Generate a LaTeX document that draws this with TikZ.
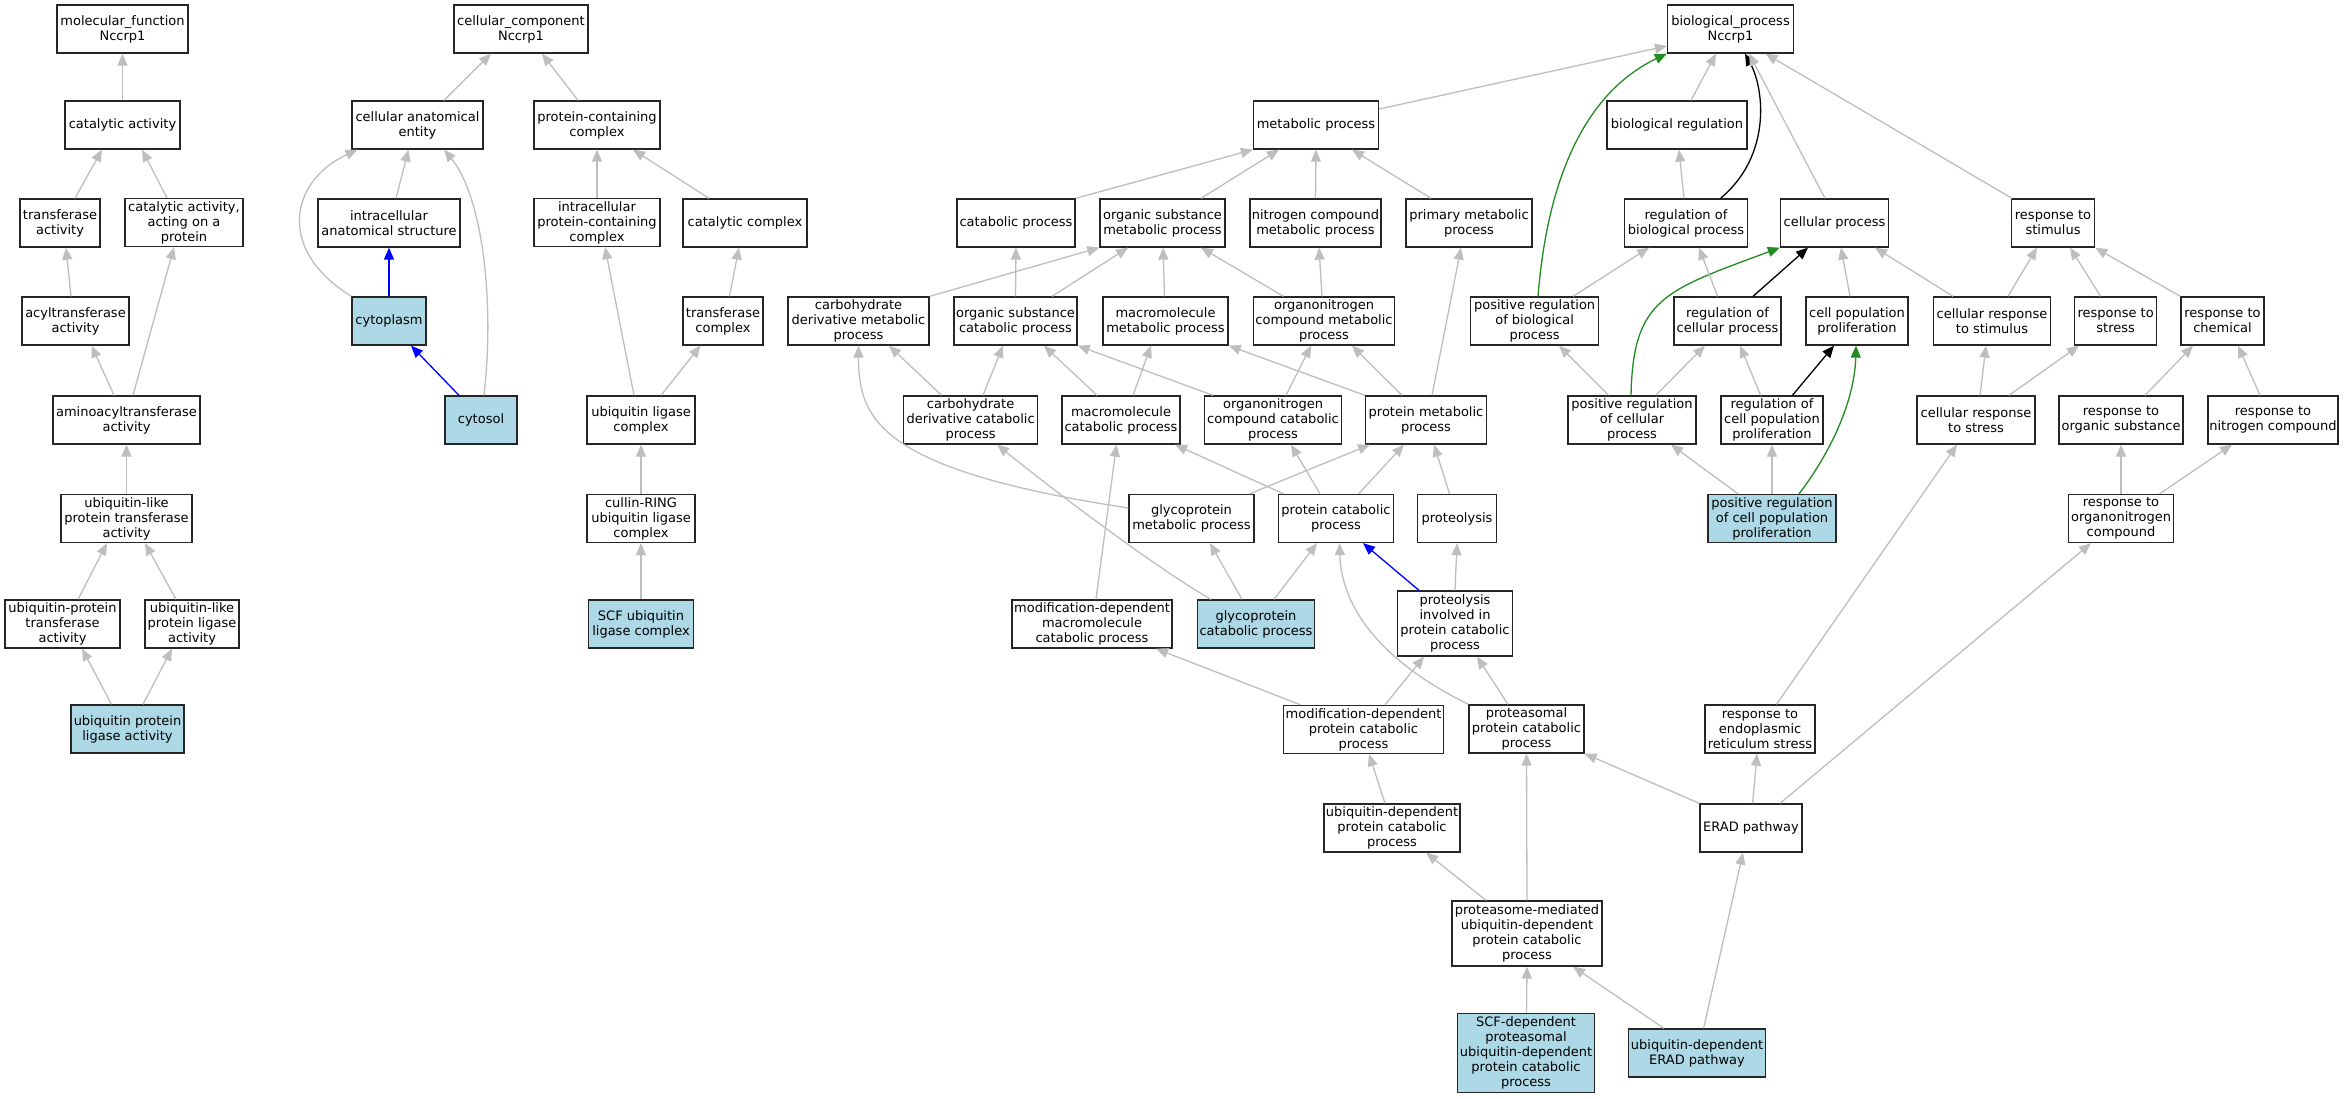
\documentclass[tikz,border=0pt]{standalone}
\usepackage{fontspec}
\setmainfont{DejaVu Sans}
\usetikzlibrary{arrows.meta}
\definecolor{eg}{RGB}{190,190,190}
\definecolor{lb}{RGB}{173,216,230}
\definecolor{fg}{RGB}{34,139,34}
\newcommand{\golink}[5][ed]{\draw[#1] ([xshift=#3pt]#2.north) -- ([xshift=#5pt]#4.south);}
\begin{document}
\begin{tikzpicture}[x=1pt,y=-1pt,
 bx/.style={draw=black!85, line width=1.3pt, fill=white, align=center, inner xsep=1pt, inner ysep=1pt, minimum height=48pt, font=\fontsize{13pt}{15pt}\selectfont},
 hl/.style={fill=lb},
 ed/.style={draw=eg, line width=1.3pt, -{Triangle[length=12pt,width=10pt]}},
 edb/.style={ed, draw=blue},
 edg/.style={ed, draw=fg},
 edk/.style={ed, draw=black}]
\useasboundingbox[fill=white] (0,0) rectangle (2344,1099);
% ---------- molecular function
\node[bx, minimum width=131pt] (mf) at (122.5,29) {molecular\_function\\Nccrp1};
\node[bx, minimum width=115pt] (ca) at (122.5,125) {catalytic activity};
\node[bx, minimum width=80pt] (ta) at (60,223) {transferase\\activity};
\node[bx, minimum width=118pt] (cap) at (184,222.5) {catalytic activity,\\acting on a\\protein};
\node[bx, minimum width=107pt] (acyl) at (75.5,321) {acyltransferase\\activity};
\node[bx, minimum width=147pt] (amino) at (126.5,420) {aminoacyltransferase\\activity};
\node[bx, minimum width=131pt] (ulpt) at (126.5,518.5) {ubiquitin-like\\protein transferase\\activity};
\node[bx, minimum width=115pt] (upt) at (62.5,624) {ubiquitin-protein\\transferase\\activity};
\node[bx, minimum width=94pt] (ulpl) at (192,624) {ubiquitin-like\\protein ligase\\activity};
\node[bx, hl, minimum width=113pt] (upl) at (127.5,729) {ubiquitin protein\\ligase activity};
% ---------- cellular component
\node[bx, minimum width=134pt] (cc) at (521,29) {cellular\_component\\Nccrp1};
\node[bx, minimum width=131pt] (cae) at (417.5,125) {cellular anatomical\\entity};
\node[bx, minimum width=126pt] (pcc) at (597,125) {protein-containing\\complex};
\node[bx, minimum width=142pt] (ias) at (389,223) {intracellular\\anatomical structure};
\node[bx, minimum width=126pt] (ipcc) at (597,222.5) {intracellular\\protein-containing\\complex};
\node[bx, hl, minimum width=74pt] (cyto) at (389,321) {cytoplasm};
\node[bx, minimum width=124pt] (catc) at (745,223) {catalytic complex};
\node[bx, minimum width=80pt] (trc) at (723,321) {transferase\\complex};
\node[bx, hl, minimum width=72pt] (cytosol) at (481,420) {cytosol};
\node[bx, minimum width=108pt] (ulc) at (641,420) {ubiquitin ligase\\complex};
\node[bx, minimum width=108pt] (crl) at (641,518.5) {cullin-RING\\ubiquitin ligase\\complex};
\node[bx, hl, minimum width=105pt] (scf) at (641,624) {SCF ubiquitin\\ligase complex};
% ---------- biological process
\node[bx, minimum width=126pt] (bp) at (1730.5,29) {biological\_process\\Nccrp1};
\node[bx, minimum width=125pt] (mp) at (1316,125) {metabolic process};
\node[bx, minimum width=140pt] (br) at (1677,125) {biological regulation};
\node[bx, minimum width=118pt] (catp) at (1016,223) {catabolic process};
\node[bx, minimum width=125pt] (osmp) at (1162.5,223) {organic substance\\metabolic process};
\node[bx, minimum width=131pt] (ncmp) at (1315.5,223) {nitrogen compound\\metabolic process};
\node[bx, minimum width=126pt] (pmp) at (1469,223) {primary metabolic\\process};
\node[bx, minimum width=123pt] (rbp) at (1686,223) {regulation of\\biological process};
\node[bx, minimum width=108pt] (cp) at (1834.5,223) {cellular process};
\node[bx, minimum width=83pt] (rs) at (2053,223) {response to\\stimulus};
\node[bx, minimum width=141pt] (cdmp) at (858.5,321) {carbohydrate\\derivative metabolic\\process};
\node[bx, minimum width=123pt] (oscp) at (1015.5,321) {organic substance\\catabolic process};
\node[bx, minimum width=125pt] (mmp) at (1165.5,321) {macromolecule\\metabolic process};
\node[bx, minimum width=141pt] (oncmp) at (1324,321) {organonitrogen\\compound metabolic\\process};
\node[bx, minimum width=128pt] (prbp) at (1534.6,321) {positive regulation\\of biological\\process};
\node[bx, minimum width=107pt] (rcp) at (1727.5,321) {regulation of\\cellular process};
\node[bx, minimum width=102pt] (cpp) at (1857,321) {cell population\\proliferation};
\node[bx, minimum width=117pt] (crst) at (1992,321) {cellular response\\to stimulus};
\node[bx, minimum width=82pt] (rstr) at (2115.6,321) {response to\\stress};
\node[bx, minimum width=83pt] (rch) at (2222.5,321) {response to\\chemical};
\node[bx, minimum width=134pt] (cdcp) at (970.6,420) {carbohydrate\\derivative catabolic\\process};
\node[bx, minimum width=118pt] (mcp) at (1121,420) {macromolecule\\catabolic process};
\node[bx, minimum width=137pt] (onccp) at (1273,420) {organonitrogen\\compound catabolic\\process};
\node[bx, minimum width=121pt] (prmp) at (1426,420) {protein metabolic\\process};
\node[bx, minimum width=128pt] (prcp) at (1632,420) {positive regulation\\of cellular\\process};
\node[bx, minimum width=102pt] (rcpp) at (1772,420) {regulation of\\cell population\\proliferation};
\node[bx, minimum width=118pt] (crss) at (1976,420) {cellular response\\to stress};
\node[bx, minimum width=124pt] (ros) at (2121,420) {response to\\organic substance};
\node[bx, minimum width=130pt] (rnc) at (2273,420) {response to\\nitrogen compound};
\node[bx, minimum width=125pt] (gmp) at (1191.5,518.5) {glycoprotein\\metabolic process};
\node[bx, minimum width=115pt] (pcp) at (1336,518.5) {protein catabolic\\process};
\node[bx, minimum width=79pt] (prot) at (1457,518.5) {proteolysis};
\node[bx, hl, minimum width=128pt] (prcpp) at (1772,518.5) {positive regulation\\of cell population\\proliferation};
\node[bx, minimum width=105pt] (ronc) at (2121,518.5) {response to\\organonitrogen\\compound};
\node[bx, minimum width=160pt] (mdmcp) at (1092,624) {modification-dependent\\macromolecule\\catabolic process};
\node[bx, hl, minimum width=117pt] (gcp) at (1256,624) {glycoprotein\\catabolic process};
\node[bx, minimum width=115pt, minimum height=65pt] (pipcp) at (1455,623.5) {proteolysis\\involved in\\protein catabolic\\process};
\node[bx, minimum width=160pt] (mdpcp) at (1363.5,729.5) {modification-dependent\\protein catabolic\\process};
\node[bx, minimum width=115pt] (ppcp) at (1526.5,729) {proteasomal\\protein catabolic\\process};
\node[bx, minimum width=110pt] (rers) at (1760,729) {response to\\endoplasmic\\reticulum stress};
\node[bx, minimum width=136pt] (udpcp) at (1392,828) {ubiquitin-dependent\\protein catabolic\\process};
\node[bx, minimum width=102pt] (erad) at (1751,828) {ERAD pathway};
\node[bx, minimum width=150pt, minimum height=65pt] (pmud) at (1527,933.5) {proteasome-mediated\\ubiquitin-dependent\\protein catabolic\\process};
\node[bx, hl, minimum width=137pt, minimum height=79pt] (scfd) at (1526,1053) {SCF-dependent\\proteasomal\\ubiquitin-dependent\\protein catabolic\\process};
\node[bx, hl, minimum width=137pt] (uderad) at (1697,1053) {ubiquitin-dependent\\ERAD pathway};
% ---------- edges: molecular function
\golink{ca}{0}{mf}{0}
\golink{ta}{15}{ca}{-20.5}
\golink{cap}{-17}{ca}{19.5}
\golink{acyl}{-4.5}{ta}{6}
\golink{amino}{-12.5}{acyl}{16}
\golink{amino}{6.5}{cap}{-10}
\golink{ulpt}{0}{amino}{0}
\golink{upt}{15.5}{ulpt}{-19.5}
\golink{ulpl}{-16}{ulpt}{18.5}
\golink{upl}{-16}{upt}{19.5}
\golink{upl}{15.5}{ulpl}{-20}
% ---------- edges: cellular component
\golink{cae}{26.5}{cc}{-30}
\golink{pcc}{-19}{cc}{21}
\golink{ias}{7}{cae}{-9}
\draw[ed] (cyto.north west) .. controls +(-76,-47) and +(-67,31) .. ([xshift=-60pt]cae.south);
\golink[edb]{cyto}{0}{ias}{0}
\draw[ed] ([xshift=3pt]cytosol.north) .. controls +(11,-96) and +(38,46) .. ([xshift=26.5pt]cae.south);
\draw[edb] ([xshift=-22pt]cytosol.north) -- ([xshift=22pt]cyto.south);
\golink{ipcc}{0}{pcc}{0}
\golink{catc}{-36}{pcc}{36}
\golink{trc}{6.4}{catc}{-6}
\golink{ulc}{-7}{ipcc}{8}
\golink{ulc}{20}{trc}{-22.5}
\golink{crl}{0}{ulc}{0}
\golink{scf}{0}{crl}{0}
% ---------- edges: biological process
\draw[ed] ([yshift=16pt]mp.east) -- ([yshift=-17pt]bp.west);
\golink{br}{14}{bp}{-14.5}
\golink{rbp}{-2}{br}{2}
\draw[edk] ([xshift=34.5pt]rbp.north) .. controls +(51.5,-43) and +(19,35) .. ([xshift=14.5pt]bp.south);
\golink{cp}{-9.5}{bp}{18.5}
\golink{rs}{-41}{bp}{35}
\draw[edg] ([xshift=3.4pt]prbp.north) .. controls +(10,-126) and +(-77.5,37) .. (bp.south west);
\golink{prbp}{38.4}{rbp}{-37}
\draw[ed] (catp.north east) -- (mp.south west);
\golink{osmp}{38.5}{mp}{-37}
\golink{ncmp}{0}{mp}{0}
\golink{pmp}{-38}{mp}{36}
\draw[ed] (cdmp.north east) -- (osmp.south west);
\golink{oscp}{0}{catp}{0}
\golink{oscp}{36.5}{osmp}{-34.5}
\golink{mmp}{-1}{osmp}{0.5}
\golink{oncmp}{-40.5}{osmp}{38.5}
\golink{oncmp}{-2}{ncmp}{3.5}
\golink{cdcp}{-29}{cdmp}{30.5}
\golink{cdcp}{12.4}{oscp}{-12.5}
\golink{mcp}{-24}{oscp}{28.5}
\golink{mcp}{12}{mmp}{-14.5}
\draw[ed] ([xshift=-60pt]onccp.north) -- (oscp.south east);
\golink{onccp}{13}{oncmp}{-13}
\draw[ed] (prmp.north west) -- (mmp.south east);
\golink{prmp}{-24}{oncmp}{28}
\golink{prmp}{6}{pmp}{-8}
\draw[ed] ([yshift=10.5pt]gmp.west) .. controls +(-249,-38) and +(0,74) .. (cdmp.south);
\golink{gmp}{58}{prmp}{-56}
\golink{pcp}{-52.5}{mcp}{54}
\golink{pcp}{-16}{onccp}{18}
\golink{pcp}{22.6}{prmp}{-22}
\golink{prot}{-7.5}{prmp}{8}
\draw[ed] ([xshift=-45pt]gcp.north) .. controls +(-61,-35) and +(43,35) .. ([xshift=26.5pt]cdcp.south);
\golink{gcp}{-14}{gmp}{18.5}
\golink{gcp}{18}{pcp}{-19}
\golink{mdmcp}{4}{mcp}{-4.5}
\golink[edb]{pipcp}{-36}{pcp}{27}
\golink{pipcp}{0}{prot}{0}
\golink{mdpcp}{-63}{mdmcp}{64}
\golink{mdpcp}{21.5}{pipcp}{-31}
\golink{ppcp}{-18.5}{pipcp}{22}
\draw[ed] (ppcp.north west) .. controls +(-69,-34) and +(2.5,77) .. ([xshift=3.5pt]pcp.south);
\golink{udpcp}{-7}{mdpcp}{5.5}
\draw[ed] (erad.north west) -- (ppcp.south east);
\golink{erad}{1.6}{rers}{-3}
\golink{erad}{29}{ronc}{-30}
\golink{pmud}{-41}{udpcp}{34}
\golink{pmud}{0}{ppcp}{0}
\golink{scfd}{0.5}{pmud}{0}
\golink{uderad}{-33}{pmud}{46}
\golink{uderad}{6.6}{erad}{-8}
\golink{rers}{16.5}{crss}{-19}
\golink{prcp}{-23.4}{prbp}{24.4}
\golink{prcp}{23.7}{rcp}{-22.5}
\draw[edg] ([xshift=-1pt]prcp.north) .. controls +(2,-97) and +(-115.6,43) .. (cp.south west);
\golink{rcp}{-10}{rbp}{13}
\golink[edk]{rcp}{25.5}{cp}{-26.5}
\golink{cpp}{-7}{cp}{6.5}
\golink{crst}{-39}{cp}{40.5}
\golink{crst}{16}{rs}{-16}
\golink{rstr}{-15}{rs}{17}
\draw[ed] (rch.north west) -- (rs.south east);
\golink{rcpp}{-11.4}{rcp}{12.5}
\golink[edk]{rcpp}{20.4}{cpp}{-23}
\golink{prcpp}{-34}{prcp}{39}
\golink{prcpp}{0}{rcpp}{0}
\draw[edg] ([xshift=27pt]prcpp.north) .. controls +(41,-54) and +(-1,44) .. ([xshift=-1pt]cpp.south);
\golink{crss}{4}{crst}{-6}
\golink{crss}{33}{rstr}{-36.6}
\golink{ros}{24}{rch}{-29.5}
\golink{rnc}{-13}{rch}{15.5}
\golink{ronc}{0}{ros}{0}
\golink{ronc}{38.5}{rnc}{-41}
\end{tikzpicture}
\end{document}
